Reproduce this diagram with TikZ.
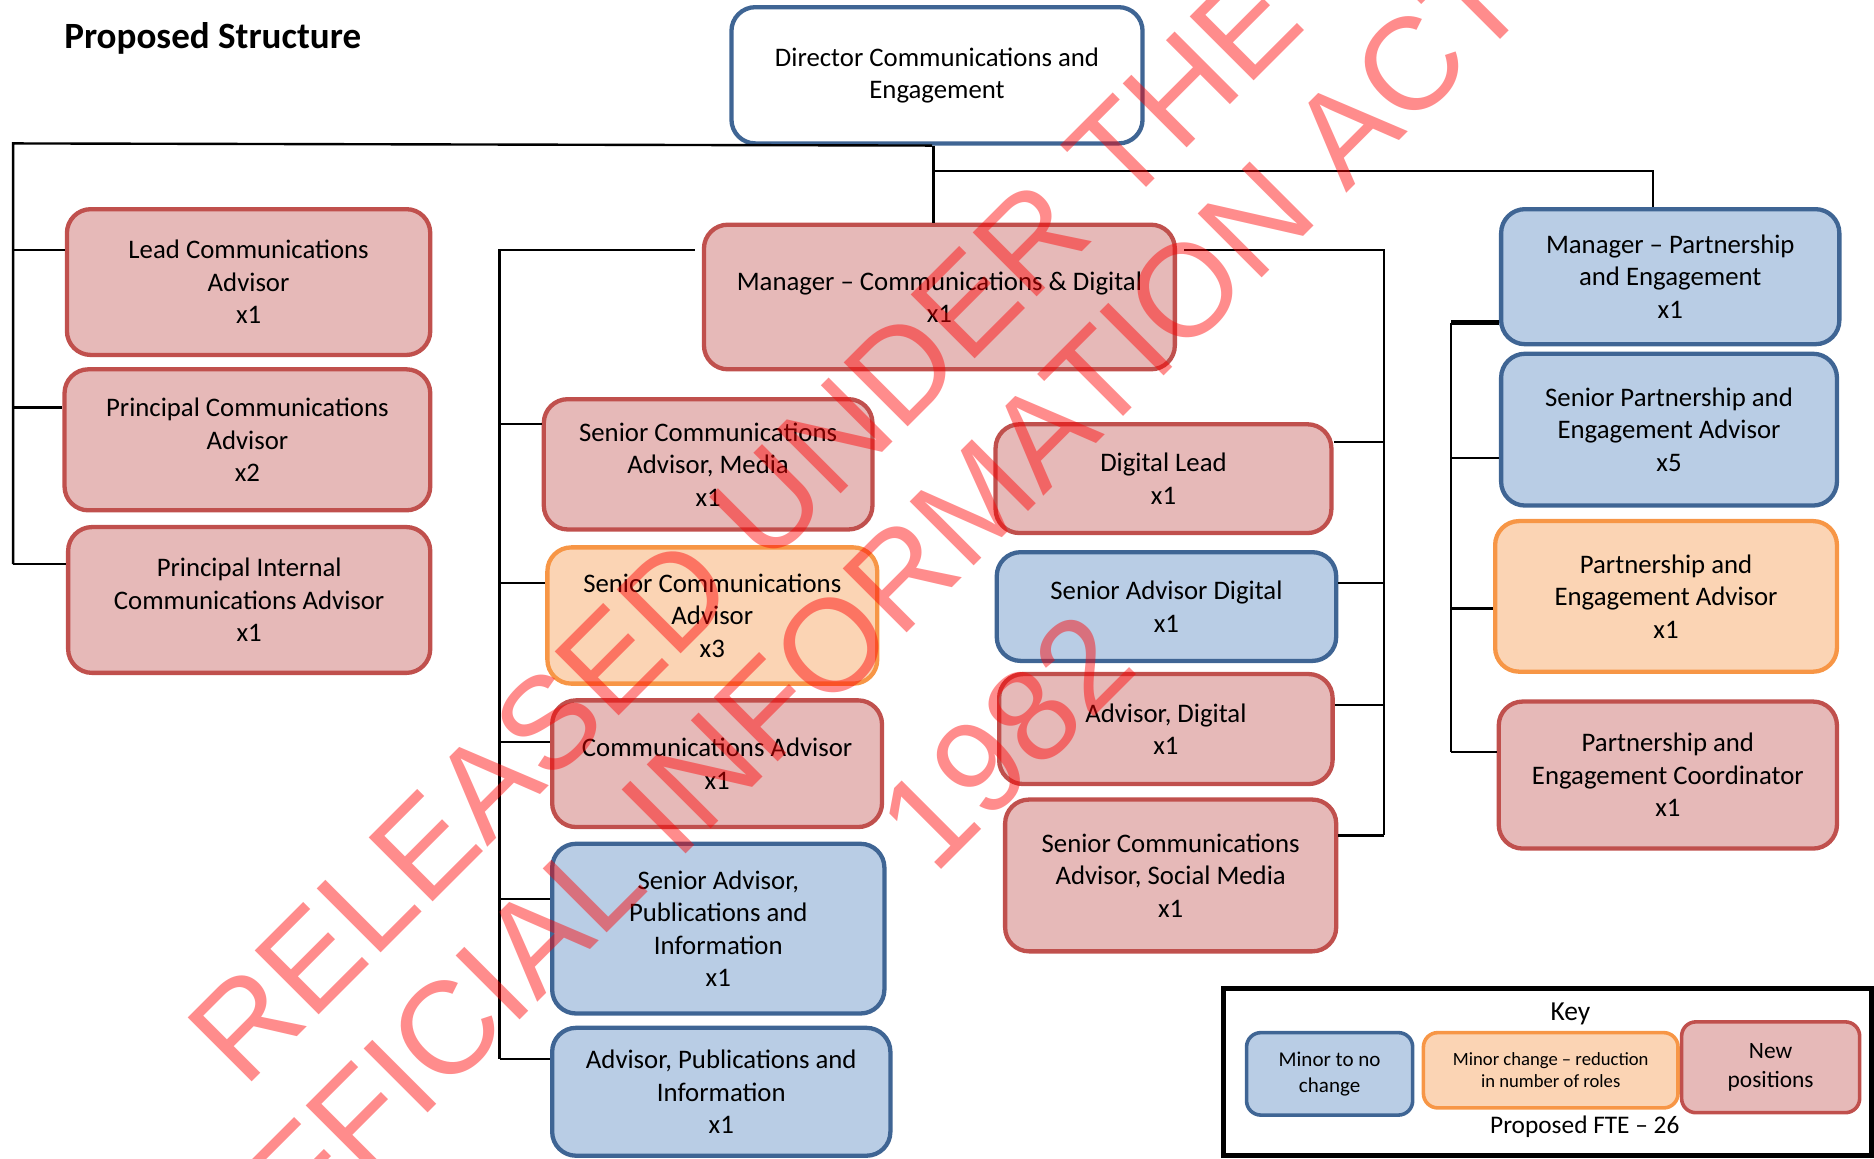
\documentclass[tikz,border=0pt]{standalone}
\usepackage{fontspec}
\setmainfont{Carlito}
\newfontfamily\wmfont{Liberation Sans}
\definecolor{blueline}{HTML}{3F6594}
\definecolor{bluefill}{HTML}{B9CDE5}
\definecolor{redline}{HTML}{C0504D}
\definecolor{redfill}{HTML}{E6B9B8}
\definecolor{orangeline}{HTML}{F79646}
\definecolor{orangefill}{HTML}{FBD4B4}
\begin{document}
\begin{tikzpicture}[x=0.5pt,y=-0.5pt,
  box/.style={rounded corners=10pt, line width=1.8pt, align=center, inner sep=0pt,
    font=\fontsize{11.2}{13.6}\selectfont},
  sz/.style 2 args={minimum width=#1pt, minimum height=#2pt},
  redbox/.style={box, draw=redline, fill=redfill},
  bluebox/.style={box, draw=blueline, fill=bluefill},
  orangebox/.style={box, draw=orangeline, fill=orangefill},
  keybox/.style={rounded corners=6pt, line width=1.5pt, align=center, inner sep=0pt},
  conn/.style={line width=1pt, black},
  wm/.style={text=red, text opacity=0.45, inner sep=0pt,
    font=\wmfont\fontsize{55}{55}\selectfont}]
\useasboundingbox (0,0) rectangle (1568,969);

% title
\node[font=\bfseries\fontsize{15.5}{18}\selectfont] (title) at (178,32) {Proposed Structure};

% director
\node[box, draw=blueline, fill=white, sz={172}{57}] (dir) at (784,63)
  {Director Communications and\\Engagement};

% left column
\node[redbox, sz={152}{61}] (lead) at (208,236) {Lead Communications\\Advisor\\x1};
\node[redbox, sz={153}{59}] (princ) at (207,368) {Principal Communications\\Advisor\\x2};
\node[redbox, sz={151.5}{61}] (pica) at (208.5,502) {Principal Internal\\Communications Advisor\\x1};

% manager communications & digital
\node[redbox, sz={197}{60.5}] (mcd) at (786,248.5) {Manager -- Communications \& Digital\\x1};

% communications team
\node[redbox, sz={137.5}{54.5}] (scam) at (592.5,388.5) {Senior Communications\\Advisor, Media\\x1};
\node[orangebox, sz={138}{57}] (sca) at (596,515) {Senior Communications\\Advisor\\x3};
\node[redbox, sz={138}{53}] (ca) at (600,639) {Communications Advisor\\x1};
\node[bluebox, sz={139}{71}] (sapi) at (601,777) {Senior Advisor,\\Publications and\\Information\\x1};
\node[bluebox, sz={141.5}{53.5}] (api) at (603.5,913.5) {Advisor, Publications and\\Information\\x1};

% digital team
\node[redbox, sz={140.5}{45.5}] (dl) at (973.5,400.5) {Digital Lead\\x1};
\node[bluebox, sz={142}{45.5}] (sad) at (976,507.5) {Senior Advisor Digital\\x1};
\node[redbox, sz={139.5}{46}] (ad) at (975.5,610) {Advisor, Digital\\x1};
\node[redbox, sz={138.5}{63.5}] (scasm) at (979.5,732.5) {Senior Communications\\Advisor, Social Media\\x1};

% partnership and engagement team
\node[bluebox, sz={141.5}{56.5}] (mpe) at (1397.5,231.5) {Manager -- Partnership\\and Engagement\\x1};
\node[bluebox, sz={140.5}{63.5}] (spea) at (1396.5,359.5) {Senior Partnership and\\Engagement Advisor\\x5};
\node[orangebox, sz={143}{63}] (pea) at (1394,499) {Partnership and\\Engagement Advisor\\x1};
\node[redbox, sz={141.5}{61.5}] (pec) at (1395.5,648.5) {Partnership and\\Engagement Coordinator\\x1};

% connectors: director to left column
\coordinate (lbus) at (11,120);
\coordinate (la) at (11,209);
\coordinate (lb) at (11,341);
\coordinate (lc) at (11,472);
\draw[conn] ([xshift=-2pt]dir.south) -- (lbus) -- (lc);
\draw[conn] (la) -- (la -| lead.west);
\draw[conn] (lb) -- (lb -| princ.west);
\draw[conn] (lc) -- (lc -| pica.west);

% connectors: director to the two managers
\coordinate (jn) at (781,143);
\coordinate (rx) at (1383,143);
\draw[conn] (jn |- dir.south) -- (jn |- mcd.north);
\draw[conn] (jn) -- (rx) -- (rx |- mpe.north);

% connectors: communications team
\coordinate (mL) at (418,209);
\coordinate (m1) at (418,355);
\coordinate (m2) at (418,488);
\coordinate (m3) at (418,621);
\coordinate (m4) at (418,752);
\coordinate (m5) at (418,886);
\draw[conn] ([xshift=-3pt]mL -| mcd.west) -- (mL) -- (m5);
\draw[conn] (m1) -- (m1 -| scam.west);
\draw[conn] (m2) -- (m2 -| sca.west);
\draw[conn] (m3) -- (m3 -| ca.west);
\draw[conn] (m4) -- (m4 -| sapi.west);
\draw[conn] (m5) -- (m5 -| api.west);

% connectors: digital team
\coordinate (mR) at (1158,209);
\coordinate (d1) at (1158,370);
\coordinate (d2) at (1158,488);
\coordinate (d3) at (1158,590);
\coordinate (d4) at (1158,699);
\draw[conn] ([xshift=3pt]mR -| mcd.east) -- (mR) -- (d4);
\draw[conn] (d1) -- (d1 -| dl.east);
\draw[conn] (d2) -- (d2 -| sad.east);
\draw[conn] (d3) -- (d3 -| ad.east);
\draw[conn] (d4) -- (d4 -| scasm.east);

% connectors: partnership team
\coordinate (p1) at (1214,270);
\coordinate (p2) at (1214,383);
\coordinate (p3) at (1214,509);
\coordinate (p4) at (1214,629);
\draw[conn] (p1) -- (p4);
\draw[conn, line width=2pt] (p1) -- (p1 -| mpe.west);
\draw[conn] (p2) -- (p2 -| spea.west);
\draw[conn] (p3) -- (p3 -| pea.west);
\draw[conn] (p4) -- (p4 -| pec.west);

% key
\node[draw=black, line width=2.2pt, minimum width=271pt, minimum height=70pt, inner sep=0pt] (key) at (1295,897) {};
\node[font=\fontsize{11.5}{13}\selectfont] (keytitle) at (1314,848) {Key};
\node[keybox, draw=blueline, fill=bluefill, sz={69.5}{34.5}, font=\fontsize{8.8}{11}\selectfont] (k1) at (1112.5,898.5) {Minor to no\\change};
\node[keybox, draw=orangeline, fill=orangefill, sz={106.5}{31.5}, font=\fontsize{7.8}{9}\selectfont] (k2) at (1297.5,895.5) {Minor change -- reduction\\in number of roles};
\node[keybox, draw=redline, fill=redfill, sz={74.5}{38}, font=\fontsize{9.8}{12}\selectfont] (k3) at (1481.5,893) {New\\positions};
\node[font=\fontsize{10.6}{12}\selectfont] (fte) at (1326,943) {Proposed FTE -- 26};

% release stamp
\begin{scope}
\clip (0,0) rectangle (1568,969);
\node[wm, rotate=45] (wm1) at (623,440) {RELEASED UNDER THE};
\node[wm, rotate=45] (wm2) at (712,523) {OFFICIAL INFORMATION ACT};
\node[wm, rotate=45] (wm3) at (842,620) {1982};
\end{scope}
\end{tikzpicture}
\end{document}
